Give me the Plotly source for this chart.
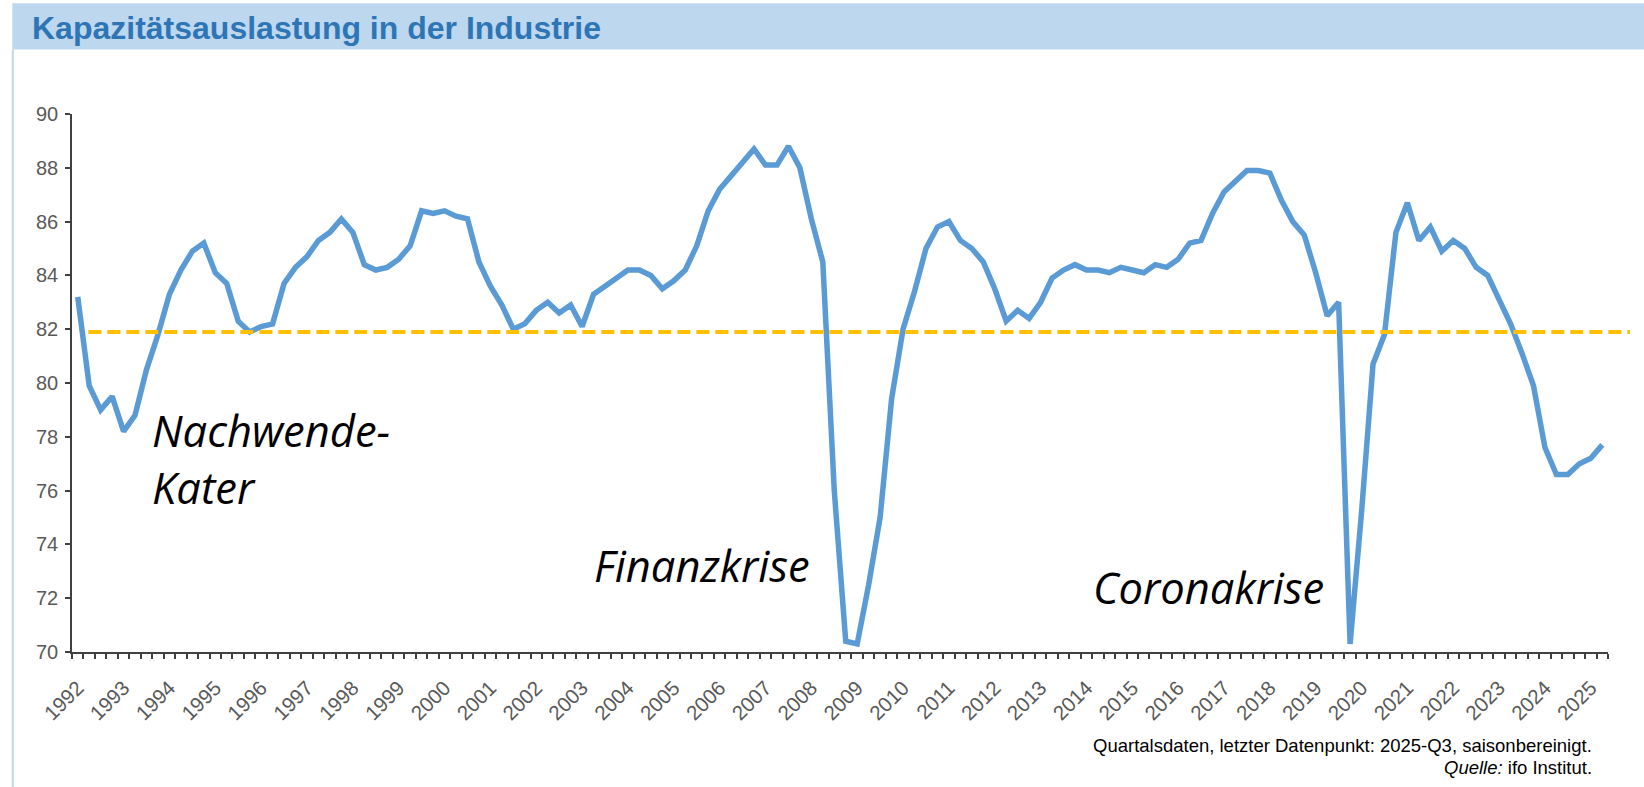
import plotly.graph_objects as go

# Kapazitätsauslastung, quarterly, seasonally adjusted (last point 2025-Q3)
UTILISATION = [
    83.2, 79.9, 79.0, 79.5, 78.2, 78.8, 80.5, 81.8, 83.3, 84.2,
    84.9, 85.2, 84.1, 83.7, 82.3, 81.9, 82.1, 82.2, 83.7, 84.3,
    84.7, 85.3, 85.6, 86.1, 85.6, 84.4, 84.2, 84.3, 84.6, 85.1,
    86.4, 86.3, 86.4, 86.2, 86.1, 84.5, 83.6, 82.9, 82.0, 82.2,
    82.7, 83.0, 82.6, 82.9, 82.1, 83.3, 83.6, 83.9, 84.2, 84.2,
    84.0, 83.5, 83.8, 84.2, 85.1, 86.4, 87.2, 87.7, 88.2, 88.7,
    88.1, 88.1, 88.8, 88.0, 86.1, 84.5, 76.0, 70.4, 70.3, 72.5,
    75.0, 79.4, 82.0, 83.4, 85.0, 85.8, 86.0, 85.3, 85.0, 84.5,
    83.5, 82.3, 82.7, 82.4, 83.0, 83.9, 84.2, 84.4, 84.2, 84.2,
    84.1, 84.3, 84.2, 84.1, 84.4, 84.3, 84.6, 85.2, 85.3, 86.3,
    87.1, 87.5, 87.9, 87.9, 87.8, 86.8, 86.0, 85.5, 84.1, 82.5,
    83.0, 70.3, 75.2, 80.7, 81.8, 85.6, 86.7, 85.3, 85.8, 84.9,
    85.3, 85.0, 84.3, 84.0, 83.1, 82.2, 81.1, 79.9, 77.6, 76.6,
    76.6, 77.0, 77.2, 77.7,
]
AVERAGE = 81.9
YEAR_LABELS = [str(y) for y in range(1992, 2026)]
YEAR_POSITIONS = list(range(0, len(UTILISATION), 4))

TITLE = "Kapazitätsauslastung in der Industrie"
NOTE = "Quartalsdaten, letzter Datenpunkt: 2025-Q3, saisonbereinigt."
SOURCE = "<i>Quelle:</i> ifo Institut."

W, H = 1644, 787
L, R, T, B = 71.7, 36, 114, 135.3
PW = W - L - R
PH = H - T - B


def px(x):
    return (x - L) / PW


def py(y):
    return (H - B - y) / PH


GREY = "#595959"
AXIS = "#404040"
SANS = "Liberation Sans, Arial, sans-serif"

fig = go.Figure()
fig.add_trace(
    go.Scatter(
        x=list(range(len(UTILISATION))),
        y=UTILISATION,
        mode="lines",
        line={"color": "#5B9BD5", "width": 5.5},
        hoverinfo="skip",
        showlegend=False,
    )
)

shapes = [
    # header band
    dict(type="rect", xref="paper", yref="paper", x0=px(12), x1=px(W + 2),
         y0=py(49.5), y1=py(3.3), fillcolor="#BDD7EE", line={"width": 0}, layer="below"),
    # left frame
    dict(type="line", xref="paper", yref="paper", x0=px(12.5), x1=px(12.5),
         y0=py(49.5), y1=py(H + 2), line={"color": "#BDD7EE", "width": 2}),
    # long-run average
    dict(type="line", xref="paper", yref="y", x0=px(88), x1=px(1630),
         y0=AVERAGE, y1=AVERAGE, line={"color": "#FFC000", "width": 4, "dash": "13px,6px"},
         layer="above"),
]

crisis_font = {"family": "Open Sans, Noto Sans, sans-serif", "size": 43.5, "color": "#000000"}
annotations = [
    dict(text=TITLE, xref="paper", yref="paper", x=px(30), y=py(28.5), xanchor="left",
         yanchor="middle", showarrow=False,
         font={"family": SANS, "size": 32, "color": "#2E75B6", "weight": "bold"}),
    dict(text="<i>Nachwende-<br>Kater</i>", x=6.3, y=77.17, xanchor="left",
         yanchor="middle", align="left", showarrow=False, font=crisis_font),
    dict(text="<i>Finanzkrise</i>", x=44.9, y=73.2, xanchor="left",
         yanchor="middle", showarrow=False, font=crisis_font),
    dict(text="<i>Coronakrise</i>", x=88.4, y=72.38, xanchor="left",
         yanchor="middle", showarrow=False, font=crisis_font),
    dict(text=NOTE, xref="paper", yref="paper", x=px(1594), y=py(745.5),
         xanchor="right", yanchor="middle", showarrow=False,
         font={"family": SANS, "size": 18.5, "color": "#000000"}),
    dict(text=SOURCE, xref="paper", yref="paper", x=px(1594), y=py(767.5),
         xanchor="right", yanchor="middle", showarrow=False,
         font={"family": SANS, "size": 18.5, "color": "#000000"}),
]

fig.update_layout(
    width=W,
    height=H,
    margin={"l": L, "r": R, "t": T, "b": B, "pad": 0},
    paper_bgcolor="white",
    plot_bgcolor="white",
    font={"family": SANS, "color": GREY},
    shapes=shapes,
    annotations=annotations,
    xaxis={
        "range": [-0.5, len(UTILISATION) - 0.5],
        "showgrid": False,
        "zeroline": False,
        "showline": True,
        "linecolor": AXIS,
        "linewidth": 1.5,
        "tickmode": "array",
        "tickvals": YEAR_POSITIONS,
        "ticktext": YEAR_LABELS,
        "tickangle": -45,
        "ticks": "",
        "tickfont": {"size": 20.5, "color": GREY},
        "ticklabelstandoff": 14,
        "minor": {"ticks": "outside", "ticklen": 5, "tickwidth": 1.5, "tickcolor": AXIS,
                  "tickmode": "linear", "tick0": -0.5, "dtick": 1, "showgrid": False},
        "fixedrange": True,
    },
    yaxis={
        "range": [70, 90],
        "showgrid": False,
        "zeroline": False,
        "showline": True,
        "linecolor": AXIS,
        "linewidth": 1.5,
        "tickmode": "linear",
        "tick0": 70,
        "dtick": 2,
        "ticks": "outside",
        "ticklen": 5,
        "tickwidth": 1.5,
        "tickcolor": AXIS,
        "tickfont": {"size": 20, "color": GREY},
        "ticklabelstandoff": 3,
        "fixedrange": True,
    },
)

fig.write_html(
    "out.html",
    config={"displayModeBar": False},
    post_script="document.body.style.margin='0';document.body.style.overflow='hidden';",
)
